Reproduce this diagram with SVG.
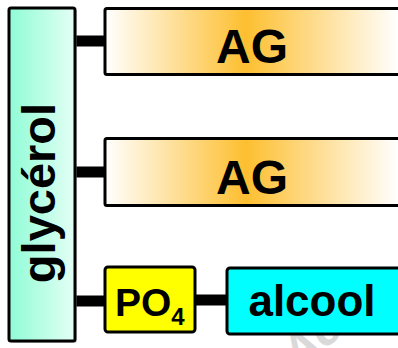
<svg xmlns="http://www.w3.org/2000/svg" width="398" height="348" viewBox="0 0 398 348">
  <style>
    .lbl { font-family: "Liberation Sans", Arial, sans-serif; font-weight: bold; fill: #000; }
    .box { stroke: #000; stroke-width: 3; }
    .shadow { fill: #b0b0b0; opacity: 0.5; }
    .bar { stroke: #000; stroke-width: 11; fill: none; }
    .wm { font-family: "Liberation Sans", Arial, sans-serif; font-weight: bold; font-style: italic; fill: #d9d9d9; }
  </style>
  <defs>
    <linearGradient id="gMint" x1="0" y1="0" x2="1" y2="0">
      <stop offset="0" stop-color="#8ffcd6"/>
      <stop offset="1" stop-color="#e4fff5"/>
    </linearGradient>
    <linearGradient id="gOrange" gradientUnits="userSpaceOnUse" x1="105" y1="0" x2="398" y2="0">
      <stop offset="0" stop-color="#ffffff"/>
      <stop offset="0.48" stop-color="#fdbf30"/>
      <stop offset="1" stop-color="#ffffff"/>
    </linearGradient>
  </defs>

  <text class="wm" x="0" y="0" font-size="48" transform="translate(298,372) rotate(-40)">Acc</text>

  <g id="connectors">
    <line class="bar" x1="75" y1="41" x2="106" y2="41"/>
    <line class="bar" x1="75" y1="172" x2="106" y2="172"/>
    <line class="bar" x1="75" y1="301" x2="106" y2="301"/>
    <line class="bar" x1="195" y1="300" x2="228" y2="300"/>
  </g>

  <g id="glycerol">
    <rect class="shadow" x="11" y="10" width="66" height="333" rx="2"/>
    <rect class="box" x="9" y="8" width="66" height="333" rx="2" fill="url(#gMint)" stroke-width="2.5"/>
    <text class="lbl" font-size="47" text-anchor="middle" transform="translate(55,193) rotate(-90)">glycérol</text>
  </g>

  <g id="ag1">
    <rect class="box" x="105" y="8.5" width="300" height="66" rx="2" fill="url(#gOrange)"/>
    <text class="lbl" x="252" y="63" font-size="48" text-anchor="middle">AG</text>
  </g>

  <g id="ag2">
    <rect class="box" x="105" y="138.5" width="300" height="67" rx="2" fill="url(#gOrange)"/>
    <text class="lbl" x="252" y="194" font-size="48" text-anchor="middle">AG</text>
  </g>

  <g id="po4">
    <rect class="box" x="105" y="267" width="90" height="65" rx="3" fill="#ffff00"/>
    <text class="lbl" x="115" y="316" font-size="39">PO<tspan font-size="24" dy="9">4</tspan></text>
  </g>

  <g id="alcool">
    <rect class="box" x="227" y="268" width="180" height="66" rx="3" fill="#00ffff"/>
    <text class="lbl" x="312" y="316" font-size="44" text-anchor="middle">alcool</text>
  </g>
</svg>
